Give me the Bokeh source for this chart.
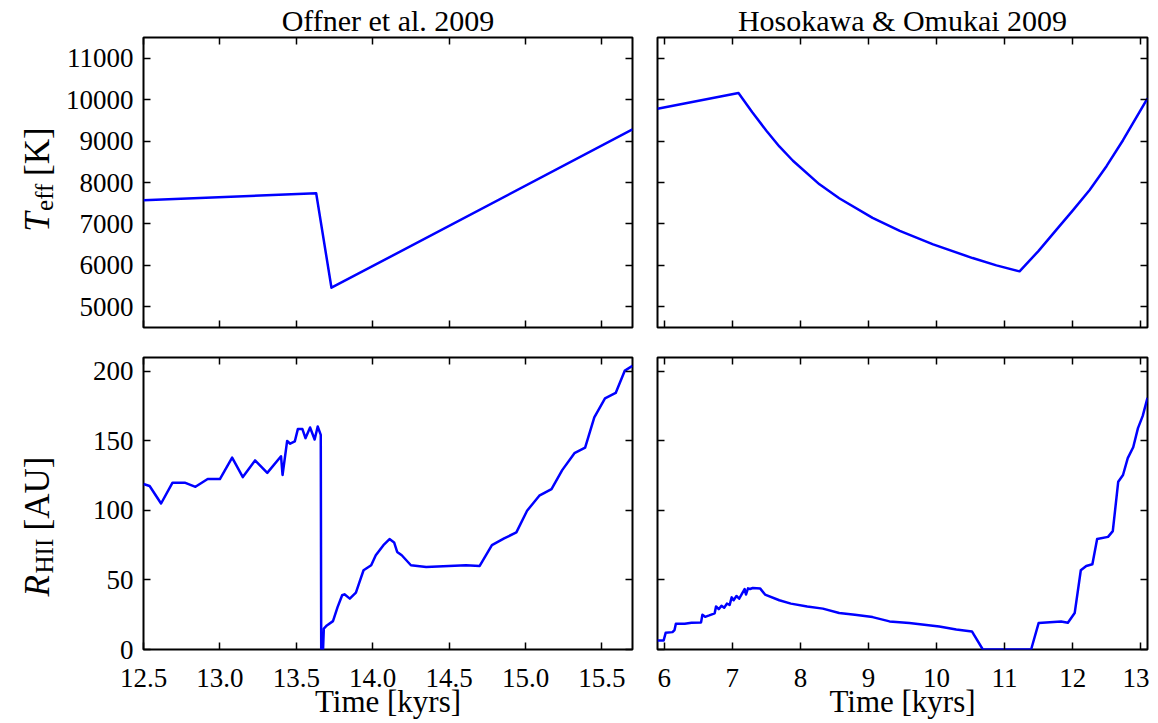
from math import pi
from bokeh.plotting import figure
from bokeh.layouts import gridplot
from bokeh.models import Range1d, FixedTicker, LinearAxis, PrintfTickFormatter
from bokeh.core.properties import value
from bokeh.embed import file_html
from bokeh.resources import INLINE

FONT = "Liberation Serif"
BLUE = "#0000ff"

# ---------------- data ----------------
titles = ["Offner et al. 2009", "Hosokawa & Omukai 2009"]
xlabel = "Time [kyrs]"
ylab_T = ["T", "eff", "[K]"]
ylab_R = ["R", "HII", "[AU]"]

# Offner et al. 2009 : effective temperature
t_off_T = [12.50, 13.63, 13.73, 15.70]
T_off = [7570, 7740, 5460, 9280]

# Hosokawa & Omukai 2009 : effective temperature
t_ho_T = [5.90, 7.09, 7.29, 7.50, 7.69, 7.89, 8.28, 8.57, 9.06, 9.46, 9.95, 10.53,
          10.88, 11.22, 11.50, 11.76, 12.00, 12.25, 12.50, 12.74, 13.10]
T_ho = [9780, 10160, 9700, 9250, 8870, 8525, 7956, 7620, 7146, 6833, 6505, 6176,
        6000, 5855, 6350, 6857, 7320, 7820, 8400, 9020, 10030]

# Offner et al. 2009 : HII region radius
t_off_R = [12.50, 12.54, 12.615, 12.69, 12.77, 12.84, 12.92, 13.00, 13.08, 13.15,
           13.23, 13.31, 13.40, 13.41, 13.44, 13.46, 13.49, 13.51, 13.54, 13.56,
           13.59, 13.62, 13.64, 13.66, 13.663, 13.675, 13.68, 13.70, 13.74, 13.77,
           13.80, 13.815, 13.85, 13.89, 13.91, 13.94, 13.99, 14.02, 14.07, 14.11,
           14.14, 14.16, 14.19, 14.25, 14.35, 14.61, 14.70, 14.78, 14.86, 14.94,
           15.01, 15.09, 15.17, 15.24, 15.32, 15.39, 15.45, 15.52, 15.59, 15.65,
           15.70]
R_off = [119, 117.6, 105, 120, 120, 117, 122.6, 122.6, 138, 124,
         136, 127, 139, 125.5, 150, 148, 149.6, 158.5, 158.5, 152,
         159.7, 151, 160.4, 154.4, 0, 0, 15, 17.3, 20.4, 30.5,
         39, 39.7, 36.6, 40.9, 47.4, 57, 60.6, 67.8, 75, 79.4,
         77, 70.2, 67.8, 60.6, 59.4, 60.6, 60.1, 75, 79.9, 84.2,
         99.8, 110.6, 115.4, 129, 141.2, 145.2, 167, 180.6, 184.5, 200.6,
         204]

# Hosokawa & Omukai 2009 : HII region radius
t_ho_R = [5.90, 5.99, 6.02, 6.12, 6.15, 6.17, 6.30, 6.40, 6.54, 6.56,
          6.60, 6.66, 6.74, 6.76, 6.80, 6.84, 6.88, 6.92, 6.96, 6.99,
          7.02, 7.06, 7.10, 7.14, 7.18, 7.20, 7.23, 7.26, 7.30, 7.41,
          7.48, 7.69, 7.86, 8.10, 8.33, 8.57, 8.80, 9.06, 9.31, 9.60,
          10.04, 10.29, 10.52, 10.68, 11.39, 11.50, 11.83, 11.93, 12.03, 12.12,
          12.20, 12.29, 12.36, 12.52, 12.59, 12.67, 12.74, 12.81, 12.89, 12.96,
          13.03, 13.10]
R_ho = [6.5, 6.5, 12.0, 12.5, 14.0, 18.5, 18.5, 19.2, 19.5, 25.0,
        23.5, 24.5, 26.0, 31.0, 29.0, 31.5, 30.0, 33.0, 32.0, 37.5,
        35.5, 38.5, 36.5, 40.0, 43.5, 39.5, 44.0, 43.5, 44.2, 43.8,
        39.5, 35.4, 33.0, 31.0, 29.4, 26.2, 25.0, 23.3, 20.2, 19.0,
        16.6, 14.4, 13.0, 0.0, 0.0, 19.0, 20.2, 19.2, 26.2, 57.0,
        60.1, 61.3, 79.4, 81.0, 85.1, 120.7, 125.5, 137.6, 145.5, 159.2,
        168.0, 181.0]

xr_off = (12.5, 15.7)
xr_ho = (5.9, 13.1)
yr_T = (4500, 11500)
yr_R = (0, 210)

xt_off = [12.5, 13.0, 13.5, 14.0, 14.5, 15.0, 15.5]
xt_ho = [6, 7, 8, 9, 10, 11, 12, 13]
yt_T = [5000, 6000, 7000, 8000, 9000, 10000, 11000]
yt_R = [0, 50, 100, 150, 200]


# ---------------- helpers ----------------
def style_axis(ax, ticks, show_labels, fmt=None, standoff=10):
    ax.ticker = FixedTicker(ticks=ticks)
    ax.axis_line_color = None
    ax.major_tick_in = 7
    ax.major_tick_out = 0
    ax.major_tick_line_color = "black"
    ax.major_tick_line_width = 1.5
    ax.minor_tick_line_color = None
    ax.major_label_text_font = FONT
    ax.major_label_text_font_size = "27px"
    ax.major_label_text_color = "black"
    if show_labels:
        if fmt is not None:
            ax.formatter = PrintfTickFormatter(format=fmt)
        ax.major_label_standoff = standoff
    else:
        ax.major_label_overrides = {t: "" for t in ticks}
        ax.major_label_standoff = 0


def make_fig(w, h, xr, yr, xt, yt, bl, br, bt, bb, show_x, show_y, xfmt, title=None):
    p = figure(width=w, height=h, x_range=Range1d(*xr), y_range=Range1d(*yr),
               output_backend="svg", toolbar_location=None, tools="",
               min_border_left=bl, min_border_right=br,
               min_border_top=bt, min_border_bottom=bb, title=title)
    p.grid.visible = False
    p.outline_line_color = "black"
    p.outline_line_width = 2
    p.outline_line_alpha = 1.0
    p.background_fill_color = "white"
    p.border_fill_color = "white"
    if title is not None:
        p.title.text_font = FONT
        p.title.text_font_size = "30px"
        p.title.text_font_style = "normal"
        p.title.text_color = "black"
        p.title.align = "center"
        p.title.standoff = 2
    style_axis(p.xaxis[0], xt, show_x, xfmt, standoff=19)
    style_axis(p.yaxis[0], yt, show_y, None, standoff=10)
    if show_x:
        ax = p.xaxis[0]
        ax.axis_label = xlabel
        ax.axis_label_text_font = FONT
        ax.axis_label_text_font_size = "31px"
        ax.axis_label_text_font_style = "normal"
        ax.axis_label_text_color = "black"
        ax.axis_label_standoff = -6
    top = LinearAxis()
    style_axis(top, xt, False)
    p.add_layout(top, "above")
    right = LinearAxis()
    style_axis(right, yt, False)
    p.add_layout(right, "right")
    return p


def label_fig(w, h, fh, texts, xs, ys, sizes, styles):
    # bare canvas whose frame is aligned with the neighbouring panel's frame;
    # 1 data unit = 1 pixel measured from the frame bottom
    q = figure(width=w, height=h, x_range=Range1d(0, w), y_range=Range1d(0, fh),
               output_backend="svg", toolbar_location=None, tools="",
               x_axis_location=None, y_axis_location=None, min_border=0)
    q.grid.visible = False
    q.outline_line_color = None
    q.background_fill_color = "white"
    q.border_fill_color = "white"
    for t, x, y, s, st in zip(texts, xs, ys, sizes, styles):
        q.text(x=[x], y=[y], text=[t], angle=pi / 2, text_font=value(FONT),
               text_font_size=s, text_font_style=st, text_color="black",
               text_align="left", text_baseline="alphabetic")
    return q


# layout geometry (pixels)
LW = 60
H_TOP, H_BOT = 337, 384

lab1 = label_fig(LW, H_TOP, 291, ylab_T, [37, 44, 37], [96, 117, 152],
                 ["35px", "25px", "35px"], ["italic", "normal", "normal"])
lab3 = label_fig(LW, H_BOT, 292, ylab_R, [37, 44, 37], [53, 76, 119],
                 ["35px", "25px", "35px"], ["italic", "normal", "normal"])

p1 = make_fig(582, H_TOP, xr_off, yr_T, xt_off, yt_T, 83, 10, 36, 10, False, True, None, titles[0])
p2 = make_fig(507, H_TOP, xr_ho, yr_T, xt_ho, yt_T, 15, 2, 36, 10, False, False, None, titles[1])
p3 = make_fig(582, H_BOT, xr_off, yr_R, xt_off, yt_R, 83, 10, 20, 72, True, True, "%.1f")
p4 = make_fig(507, H_BOT, xr_ho, yr_R, xt_ho, yt_R, 15, 2, 20, 72, True, False, "%d")

p1.line(t_off_T, T_off, line_color=BLUE, line_width=2.5, line_join="round")
p2.line(t_ho_T, T_ho, line_color=BLUE, line_width=2.5, line_join="round")
p3.line(t_off_R, R_off, line_color=BLUE, line_width=2.5, line_join="round")
p4.line(t_ho_R, R_ho, line_color=BLUE, line_width=2.5, line_join="round")

grid = gridplot([[lab1, p1, p2], [lab3, p3, p4]], toolbar_location=None)

open("out.html", "w").write(file_html(grid, INLINE))
